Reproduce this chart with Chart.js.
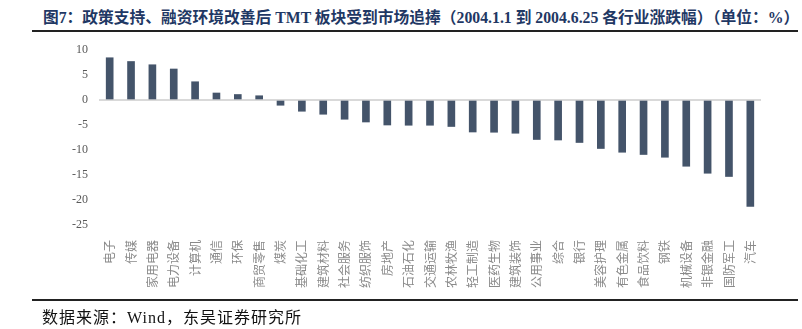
<!DOCTYPE html>
<html>
<head>
<meta charset="utf-8">
<script src="https://cdn.jsdelivr.net/npm/chart.js@4"></script>
<style>
  body { margin: 0; background: #fff; }
  #wrap { position: relative; width: 802px; height: 329px; overflow: hidden; }
  #title {
    position: absolute; left: 43px; top: 5px; white-space: nowrap;
    font: bold 15.75px "Liberation Serif", "Noto Sans CJK SC", serif; color: #1f3864;
  }
  .rule { position: absolute; left: 32px; width: 766px; height: 2px; background: #222; }
  #source {
    position: absolute; left: 42px; top: 304px; white-space: nowrap; letter-spacing: 1px;
    font: 16px "Liberation Serif", "Noto Sans CJK SC", serif; color: #111;
  }
  canvas { position: absolute; left: 0; top: 0; }
</style>
</head>
<body>
<div id="wrap">
  <div id="title">图7：政策支持、融资环境改善后 TMT 板块受到市场追捧（2004.1.1 到 2004.6.25 各行业涨跌幅）（单位：%）</div>
  <div class="rule" style="top:30px"></div>
  <canvas id="grafica" width="802" height="329"></canvas>
  <div class="rule" style="top:299px"></div>
  <div id="source">数据来源：Wind，东吴证券研究所</div>
</div>
<script>
// Industrias y variación (%) del 2004.1.1 al 2004.6.25
const industrias = ['电子', '传媒', '家用电器', '电力设备', '计算机', '通信', '环保', '商贸零售', '煤炭',
    '基础化工', '建筑材料', '社会服务', '纺织服饰', '房地产', '石油石化', '交通运输', '农林牧渔', '轻工制造',
    '医药生物', '建筑装饰', '公用事业', '综合', '银行', '美容护理', '有色金属', '食品饮料', '钢铁',
    '机械设备', '非银金融', '国防军工', '汽车'];
const variacion = [8.45, 7.7, 7.05, 6.2, 3.65, 1.4, 1.1, 0.85, -1.05,
    -2.25, -2.85, -3.85, -4.4, -5.0, -5.05, -5.05, -5.3, -6.4,
    -6.45, -6.65, -7.9, -8.0, -8.5, -9.7, -10.45, -10.9, -11.45,
    -13.25, -14.65, -15.3, -21.3];
const ejeY = { min: -25, max: 10, paso: 5 };

const ctx = document.getElementById('grafica').getContext('2d');
new Chart(ctx, {
    type: 'bar',
    data: {
        labels: industrias,
        datasets: [{
            data: variacion,
            backgroundColor: '#44546a',
            barThickness: 7
        }]
    },
    options: {
        responsive: false,
        animation: false,
        devicePixelRatio: 1,
        layout: { padding: { left: 0, right: 41, top: 50, bottom: 34 } },
        plugins: { legend: { display: false }, tooltip: { enabled: false } },
        scales: {
            x: {
                grid: { display: false },
                border: { display: false },
                ticks: {
                    autoSkip: false, maxRotation: 90, minRotation: 90, padding: 7,
                    color: '#8a8a8a',
                    font: { family: '"Noto Sans CJK SC"', size: 12 }
                },
                afterFit: s => { s.height = 70; }
            },
            y: {
                min: ejeY.min,
                max: ejeY.max,
                border: { display: false },
                grid: {
                    drawTicks: false,
                    lineWidth: 2,
                    color: c => (c.tick && c.tick.value === 0) ? '#d9d9d9' : 'rgba(0,0,0,0)'
                },
                ticks: {
                    stepSize: ejeY.paso, padding: 11,
                    color: '#595959',
                    font: { family: '"Liberation Serif"', size: 12 }
                },
                afterFit: s => { s.width = 99; }
            }
        }
    }
});
</script>
</body>
</html>
